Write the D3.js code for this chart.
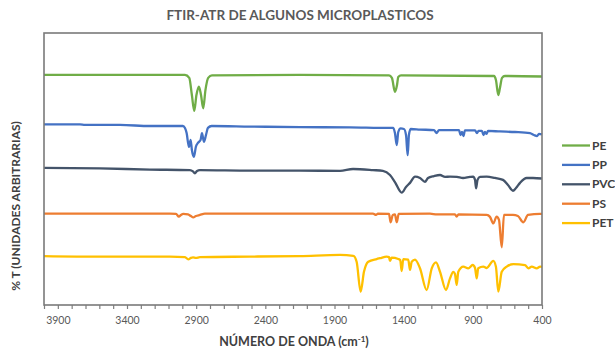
<!DOCTYPE html>
<html>
<head>
<meta charset="utf-8">
<script src="https://cdn.jsdelivr.net/npm/d3@7"></script>
<style>
  body { margin: 0; background: #fff; }
  text { font-family: Lato, "Open Sans", sans-serif; }
</style>
</head>
<body>
<div id="root"></div>
<script>
"use strict";

// wavenumber (cm-1) and %T (arbitrary, stacked)
const seriesNames = ["PE", "PP", "PVC", "PS", "PET"];

const peData = [
  [4000, 84.6], [3234, 84.6], [2981, 84.6], [2950, 83.5], [2931, 77.2], [2914, 71.4],
  [2898, 77.2], [2880, 80.3], [2865, 77.2], [2849, 72.3], [2833, 79.0], [2813, 83.5],
  [2786, 84.4], [2150, 84.6], [1506, 84.4], [1485, 83.5], [1463, 78.4], [1448, 80.9],
  [1439, 83.8], [1419, 84.4], [747, 84.2], [733, 82.7], [716, 77.2], [704, 79.8],
  [689, 83.5], [668, 84.2], [400, 84.0]
];

const ppData = [
  [4000, 66.4], [3740, 66.4], [3704, 66.2], [3451, 66.2], [3234, 65.8], [2996, 65.8],
  [2981, 65.1], [2969, 63.2], [2952, 58.1], [2940, 60.7], [2931, 57.0], [2916, 54.5],
  [2902, 58.2], [2887, 59.6], [2868, 60.7], [2858, 63.2], [2844, 60.0], [2829, 62.5],
  [2815, 65.1], [2788, 65.8], [2511, 65.6], [2150, 65.4], [1788, 65.3], [1499, 65.1],
  [1475, 65.1], [1463, 63.2], [1450, 58.8], [1439, 63.6], [1422, 64.9], [1398, 64.7],
  [1383, 62.5], [1371, 55.1], [1362, 62.5], [1349, 64.7], [1282, 64.5], [1181, 64.3],
  [1161, 63.2], [1145, 64.3], [1065, 64.3], [1000, 64.3], [989, 62.5], [978, 63.6],
  [968, 62.1], [957, 64.2], [884, 64.2], [870, 63.2], [859, 64.0], [834, 64.0],
  [823, 62.5], [812, 63.6], [801, 62.9], [790, 64.0], [704, 63.8], [595, 63.6],
  [487, 63.2], [458, 62.5], [436, 62.1], [422, 62.9], [400, 62.7]
];

const pvcData = [
  [4000, 50.4], [3596, 50.2], [3234, 49.8], [2945, 49.6], [2923, 49.1], [2909, 48.4],
  [2894, 49.3], [2873, 49.6], [2511, 49.4], [2150, 49.4], [1860, 49.3], [1766, 50.0],
  [1622, 49.6], [1550, 49.3], [1499, 47.8], [1463, 45.2], [1414, 41.3], [1383, 43.4],
  [1354, 44.9], [1318, 47.2], [1282, 46.7], [1246, 45.3], [1224, 46.7], [1181, 47.4],
  [1137, 47.8], [1101, 47.1], [1065, 47.2], [1015, 47.1], [971, 46.7], [921, 47.1],
  [898, 47.2], [884, 46.0], [877, 42.9], [866, 46.0], [848, 47.1], [800, 47.2],
  [740, 46.7], [682, 46.0], [646, 44.1], [610, 42.0], [588, 43.0], [559, 44.9],
  [511, 46.7], [465, 46.7], [400, 46.5]
];

const psData = [
  [4000, 33.6], [3451, 33.6], [3090, 33.6], [3046, 33.5], [3025, 32.5], [3010, 33.1],
  [2993, 33.5], [2959, 33.3], [2938, 32.7], [2921, 32.2], [2902, 32.7], [2873, 33.1],
  [2837, 33.6], [2511, 33.6], [2150, 33.6], [1622, 33.6], [1600, 33.1], [1586, 33.6],
  [1506, 33.5], [1494, 30.4], [1479, 33.1], [1463, 33.3], [1450, 30.4], [1436, 33.5],
  [1210, 33.6], [1159, 33.3], [1029, 33.3], [1017, 32.5], [1004, 33.3], [800, 33.1],
  [776, 32.4], [752, 30.0], [728, 32.5], [711, 31.3], [691, 21.2], [675, 33.1],
  [610, 33.1], [574, 32.7], [535, 30.4], [501, 33.1], [414, 33.5], [400, 33.5]
];

const petData = [
  [4000, 18.0], [3596, 17.8], [3307, 17.8], [3090, 17.8], [2981, 17.6], [2957, 16.8],
  [2938, 17.3], [2923, 17.5], [2902, 17.3], [2873, 17.6], [2511, 17.8], [2150, 18.0],
  [1860, 18.4], [1764, 18.1], [1740, 15.9], [1711, 4.9], [1687, 12.2], [1656, 15.9],
  [1595, 16.9], [1571, 17.2], [1523, 17.8], [1506, 17.6], [1499, 16.2], [1487, 17.4],
  [1439, 16.9], [1425, 16.5], [1414, 12.5], [1403, 16.9], [1367, 16.7], [1354, 12.9],
  [1342, 15.9], [1318, 16.7], [1282, 13.5], [1234, 5.5], [1197, 13.5], [1166, 15.7],
  [1137, 12.2], [1094, 5.5], [1065, 9.8], [1041, 12.2], [1029, 11.4], [1017, 7.4],
  [1005, 12.2], [969, 14.1], [933, 13.5], [901, 14.7], [884, 13.6], [872, 9.8],
  [861, 13.5], [824, 14.1], [800, 13.6], [752, 16.2], [733, 14.1], [716, 4.9],
  [691, 12.2], [655, 14.1], [607, 15.0], [523, 14.7], [499, 13.5], [474, 14.1],
  [438, 13.5], [414, 14.1], [400, 14.0]
];

const majorTicks = [3900, 3400, 2900, 2400, 1900, 1400, 900, 400];
const minorTicks = d3.range(400, 4001, 100);

const seriesData = [peData, ppData, pvcData, psData, petData];
const colors = ["#70ad47", "#4472c4", "#44546a", "#ed7d31", "#ffc000"];

const width = 615;
const height = 354;
const plot = { left: 44, right: 542, top: 33, bottom: 305 };

const ScaleX = d3.scaleLinear().domain([4000, 400]).range([plot.left, plot.right]);
const ScaleY = d3.scaleLinear().domain([0, 100]).range([plot.bottom, plot.top]);

const svg = d3.select("#root")
  .append("svg")
  .attr("width", width)
  .attr("height", height);

svg.append("text")
  .attr("x", 300)
  .attr("y", 20)
  .attr("text-anchor", "middle")
  .style("font-size", "13.5px")
  .style("font-weight", "bold")
  .style("fill", "#595959")
  .text("FTIR-ATR DE ALGUNOS MICROPLASTICOS");

// x axis, tick every 100, label every 500
const xAxis = d3.axisBottom(ScaleX)
  .tickValues(minorTicks)
  .tickSize(4)
  .tickSizeOuter(0)
  .tickFormat((d) => (majorTicks.includes(d) ? d : ""));

const gx = svg.append("g")
  .attr("transform", `translate(0, ${plot.bottom})`)
  .call(xAxis);
gx.select(".domain").remove();
gx.selectAll(".tick line").attr("stroke", "#7f7f7f").attr("stroke-width", 1.2);
gx.selectAll(".tick text")
  .attr("y", 12)
  .style("font-family", "Lato, sans-serif")
  .style("font-size", "10.5px")
  .style("fill", "#595959");

const line = d3.line()
  .x((d) => ScaleX(d[0]))
  .y((d) => ScaleY(d[1]))
  .curve(d3.curveMonotoneX);

svg.append("g")
  .selectAll("path")
  .data(seriesData)
  .enter()
  .append("path")
  .attr("d", line)
  .attr("fill", "none")
  .attr("stroke", (d, i) => colors[i])
  .attr("stroke-width", 2.3)
  .attr("stroke-linejoin", "round");

svg.append("rect")
  .attr("x", plot.left)
  .attr("y", plot.top)
  .attr("width", plot.right - plot.left)
  .attr("height", plot.bottom - plot.top)
  .attr("fill", "none")
  .attr("stroke", "#7a7a7a")
  .attr("stroke-width", 1.6);

svg.append("text")
  .attr("x", 294)
  .attr("y", 346)
  .attr("text-anchor", "middle")
  .style("font-size", "12.5px")
  .style("font-weight", "bold")
  .style("fill", "#404040")
  .html("NÚMERO DE ONDA (cm<tspan dy='-4' font-size='8px'>-1</tspan><tspan dy='4'>)</tspan>");

svg.append("text")
  .attr("transform", "translate(20, 206) rotate(-90)")
  .attr("text-anchor", "middle")
  .style("font-size", "12px")
  .style("font-weight", "bold")
  .style("fill", "#404040")
  .text("% T (UNIDADES ARBITRARIAS)");

const legend = svg.append("g")
  .selectAll("g")
  .data(seriesNames)
  .enter()
  .append("g")
  .attr("transform", (d, i) => `translate(562, ${145.5 + i * 19.4})`);

legend.append("line")
  .attr("x1", 0)
  .attr("x2", 28)
  .attr("stroke", (d, i) => colors[i])
  .attr("stroke-width", 2.3);

legend.append("text")
  .attr("x", 30)
  .attr("y", 4)
  .style("font-size", "12px")
  .style("font-weight", "bold")
  .style("fill", "#404040")
  .text((d) => d);
</script>
</body>
</html>
